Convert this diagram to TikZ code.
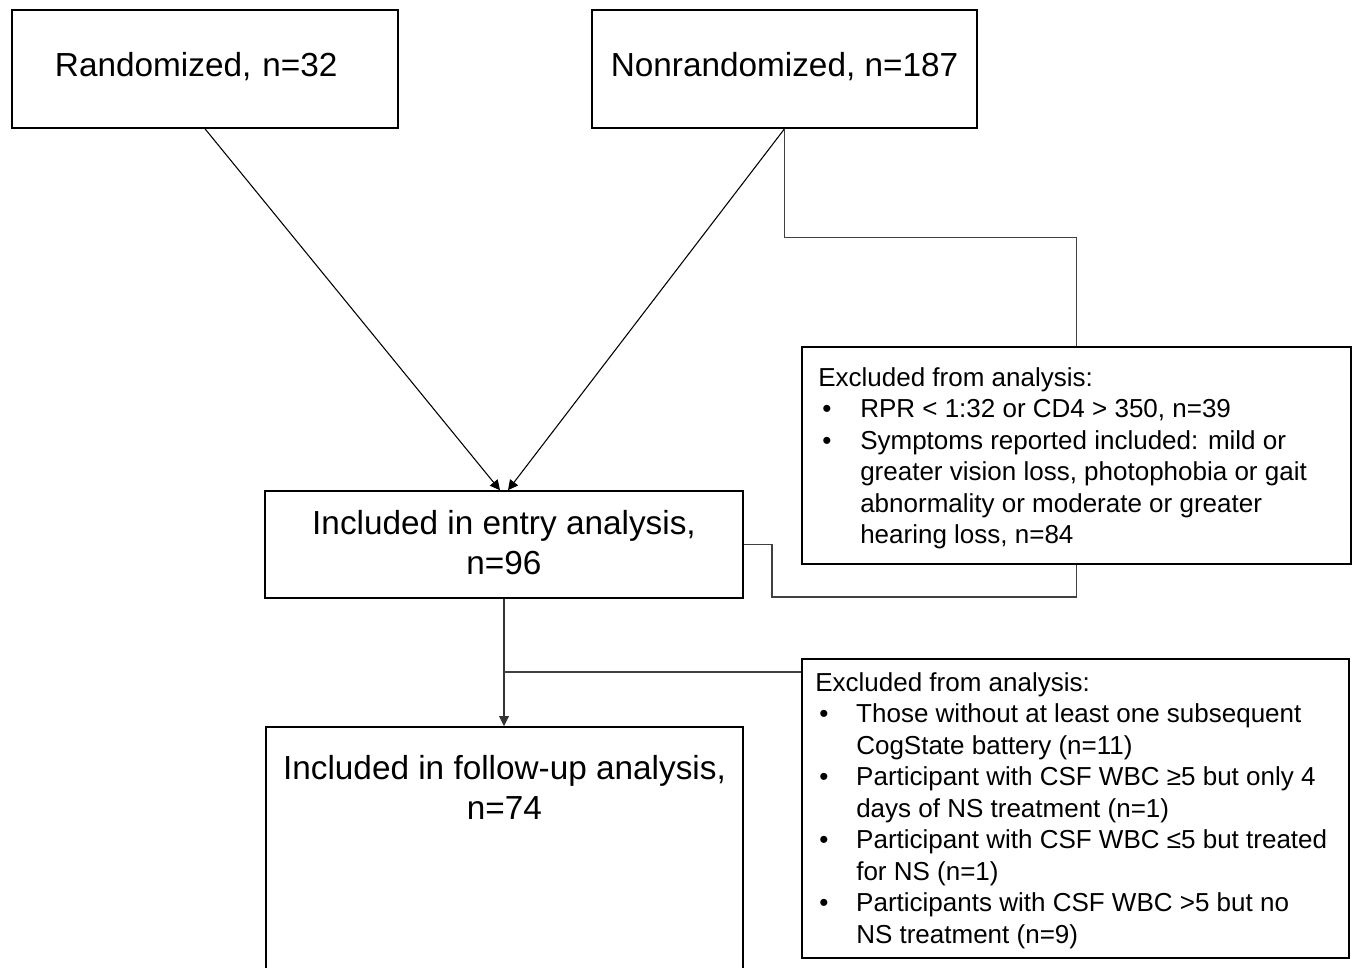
\documentclass[tikz,border=0pt]{standalone}
\usepackage{fontspec}
\setmainfont{Liberation Sans}
\usetikzlibrary{arrows.meta,calc}
\begin{document}
\begin{tikzpicture}[x=0.75pt,y=-0.75pt,
 bigbox/.style={draw=black,line width=1.2pt,inner sep=0pt,rectangle,font=\fontsize{25}{30}\selectfont,align=center},
 exbox/.style={draw=black,line width=1.2pt,inner sep=0pt,rectangle,anchor=north west},
 bigtext/.style={inner sep=0pt,font=\fontsize{25}{30}\selectfont,align=center},
 extext/.style={inner sep=0pt,anchor=north west,font=\fontsize{19.5}{23.6}\selectfont},
 conn/.style={draw=black!75,line width=0.9pt},
 arr/.style={draw=black,line width=0.8pt,-{Triangle[length=7.5pt,width=7.5pt]}}]
\clip (0,0) rectangle (1354,968);
\fill[white] (0,0) rectangle (1354,968);
% top boxes
\node[bigbox,minimum width=289.5pt,minimum height=88.5pt,inner xsep=32.25pt,text width=225pt,align=left,text height=18.5pt,text depth=8pt] (r) at (205,69) {Randomized, n=32};
\node[bigbox,minimum width=288.75pt,minimum height=88.5pt,text height=18.5pt,text depth=8pt] (n) at (784.5,69) {Nonrandomized, n=187};
% entry
\node[bigbox,minimum width=358.5pt,minimum height=80.25pt,text depth=3pt] (e) at (504,544.5) {Included in entry analysis,\\n=96};
% follow-up
\node[bigbox,minimum width=357.75pt,minimum height=225pt,anchor=north] (f) at (504.5,726) {};
\node[bigtext,anchor=north] (ft) at (504.5,755) {Included in follow-up analysis,\\n=74};
% exclusion boxes
\node[exbox,minimum width=411.75pt,minimum height=162.75pt] (x1) at (801,346) {};
\node[extext] (x1t) at (818,364) {\begin{tabular}{@{}p{31.5pt}@{}l@{}}
\multicolumn{2}{@{}l@{}}{Excluded from analysis:}\\
\hspace*{3pt}\textbullet & RPR < 1:32 or CD4 > 350, n=39\\
\hspace*{3pt}\textbullet & Symptoms reported included: mild or\\
 & greater vision loss, photophobia or gait\\
 & abnormality or moderate or greater\\
 & hearing loss, n=84
\end{tabular}};
\node[exbox,minimum width=410.25pt,minimum height=224.25pt] (x2) at (801,658) {};
\node[extext] (x2t) at (815,669) {\begin{tabular}{@{}p{30.75pt}@{}l@{}}
\multicolumn{2}{@{}l@{}}{Excluded from analysis:}\\
\hspace*{3pt}\textbullet & Those without at least one subsequent\\
 & CogState battery (n=11)\\
\hspace*{3pt}\textbullet & Participant with CSF WBC ≥5 but only 4\\
 & days of NS treatment (n=1)\\
\hspace*{3pt}\textbullet & Participant with CSF WBC ≤5 but treated\\
 & for NS (n=1)\\
\hspace*{3pt}\textbullet & Participants with CSF WBC >5 but no\\
 & NS treatment (n=9)
\end{tabular}};
% connectors
\draw[arr] (r.south) -- ([xshift=-3pt]e.north);
\draw[arr] (n.south) -- ([xshift=3pt]e.north);
\draw[conn] (n.south) -- ++(0,109) -| (x1.north);
\coordinate (k) at (772,597);
\draw[conn] (x1.south) |- (k) |- (e.east);
\draw[arr,draw=black!80] (e.south) -- (e.south |- f.north);
\coordinate (j) at (504,672);
\draw[conn] (j) -- (j -| x2.west);
\end{tikzpicture}
\end{document}
